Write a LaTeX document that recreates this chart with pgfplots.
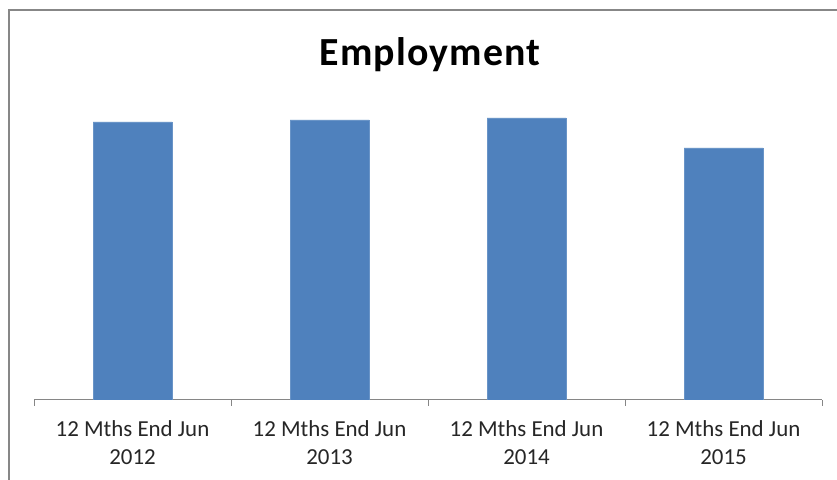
\documentclass[border=0pt]{standalone}
\usepackage{pgfplots}
\pgfplotsset{compat=1.18}
\usepackage{fontspec}
\setmainfont{Carlito}
\newfontfamily\titlefont[LetterSpace=3]{Carlito}
\definecolor{barblue}{HTML}{4F81BD}
\definecolor{framegray}{HTML}{878787}
\definecolor{axisgray}{HTML}{868686}
\definecolor{labelgray}{HTML}{262626}
\begin{document}
\begin{tikzpicture}[x=1bp,y=1bp]
\useasboundingbox (0,0) rectangle (837,480);
\clip (0,0) rectangle (837,480);
\fill[white] (0,0) rectangle (837,480);
% chart area border
\draw[framegray, line width=2.5bp] (9,-20) -- (9,470) -- (860,470);
% chart title
\node[font=\titlefont\fontsize{40}{46}\selectfont\bfseries, anchor=base] at (430,414) {Employment};
\begin{axis}[
  at={(34bp,80bp)}, anchor=south west,
  scale only axis, width=788bp, height=315bp,
  xmin=-0.5, xmax=3.5, ymin=0, ymax=315,
  enlargelimits=false,
  axis x line*=bottom, axis y line=none,
  x axis line style={axisgray, line width=1bp},
  xtick={0,1,2,3},
  xticklabels={{12 Mths End Jun\\2012},{12 Mths End Jun\\2013},{12 Mths End Jun\\2014},{12 Mths End Jun\\2015}},
  xticklabel style={align=center, font=\fontsize{23}{28.5}\selectfont, text=labelgray, inner sep=0pt, anchor=north, yshift=-20bp},
  major tick length=0pt,
  minor xtick={-0.5,0.5,1.5,2.5,3.5},
  minor tick length=6bp,
  tick align=outside,
  minor tick style={axisgray, line width=1bp},
  ytick=\empty,
  ybar, bar width=79bp,
]
\addplot[fill=barblue, draw=barblue!85!white, line width=0.6bp] coordinates {(0,278) (1,280) (2,282) (3,252)};
\end{axis}
\end{tikzpicture}
\end{document}
